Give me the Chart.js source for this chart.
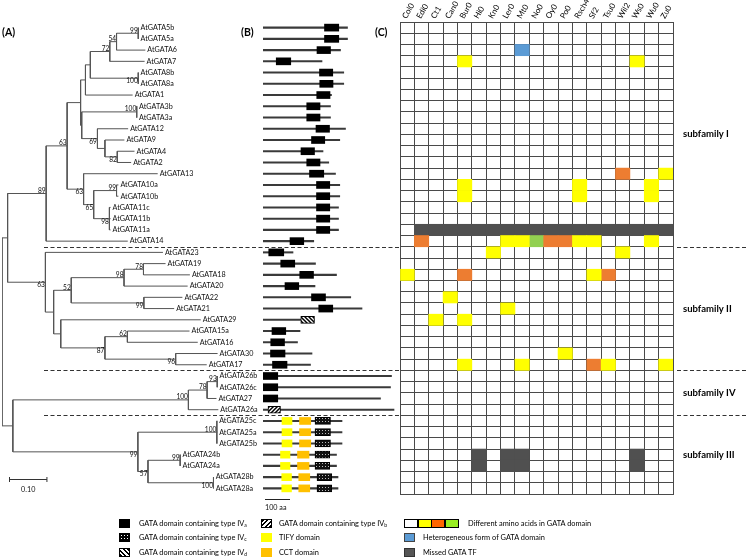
<!DOCTYPE html>
<html>
<head>
<meta charset="utf-8">
<script src="https://cdn.jsdelivr.net/npm/chart.js@4.4.1/dist/chart.umd.min.js"></script>
<style>
  body { margin: 0; background: #fff; }
  #wrap { position: relative; width: 750px; height: 558px; overflow: hidden; font-family: Lato, sans-serif; color: #000; }
  canvas { position: absolute; top: 0; }
  .tag { position: absolute; font-weight: bold; font-size: 10.5px; }
  .lg { position: absolute; font-size: 7.4px; line-height: 10px; white-space: nowrap; }
  .lg i { position: absolute; left: 0; top: 0; width: 11px; height: 9px; box-sizing: border-box; }
  .lg span { position: absolute; top: 0; }
  .lg sub { font-size: 5px; vertical-align: -1px; }
</style>
</head>
<body>
<div id="wrap">
  <canvas id="prot" width="400" height="558" style="left:0"></canvas>
  <canvas id="tree" width="264" height="558" style="left:0"></canvas>
  <canvas id="grid" width="355" height="558" style="left:395px"></canvas>

  <div class="tag" style="left:2px;top:26px">(A)</div>
  <div class="tag" style="left:241px;top:26px">(B)</div>
  <div class="tag" style="left:375px;top:26px">(C)</div>

  <div class="lg" style="left:119px;top:519px"><i style="background:#000"></i><span style="left:20px">GATA domain containing type IV<sub>a</sub></span></div>
  <div class="lg" style="left:119px;top:533px"><i style="background:#000 radial-gradient(#fff 0.5px, transparent 0.9px) 0 0/3px 3px;border:1px solid #000"></i><span style="left:20px">GATA domain containing type IV<sub>c</sub></span></div>
  <div class="lg" style="left:119px;top:548px"><i style="background:repeating-linear-gradient(45deg,#000 0 1.6px,#fff 1.6px 3.2px);border:1px solid #000"></i><span style="left:20px">GATA domain containing type IV<sub>d</sub></span></div>

  <div class="lg" style="left:261px;top:519px"><i style="background:repeating-linear-gradient(135deg,#000 0 1.6px,#fff 1.6px 3.2px);border:1px solid #000"></i><span style="left:18px">GATA domain containing type IV<sub>b</sub></span></div>
  <div class="lg" style="left:261px;top:533px"><i style="background:#ffff00"></i><span style="left:18px">TIFY domain</span></div>
  <div class="lg" style="left:261px;top:548px"><i style="background:#ffc000"></i><span style="left:18px">CCT domain</span></div>

  <div class="lg" style="left:404px;top:519px">
    <i style="left:0;width:14px;background:#fff;border:1px solid #000"></i>
    <i style="left:13.5px;width:14px;background:#ffff00;border:1px solid #000"></i>
    <i style="left:27px;width:14px;background:#ff6600;border:1px solid #000"></i>
    <i style="left:40.5px;width:14px;background:#99ee22;border:1px solid #000"></i>
    <span style="left:64px">Different amino acids in GATA domain</span></div>
  <div class="lg" style="left:404px;top:533px"><i style="background:#5b9bd5;border:1px solid #444"></i><span style="left:19px">Heterogeneous form of GATA domain</span></div>
  <div class="lg" style="left:404px;top:548px"><i style="background:#555;border:1px solid #333"></i><span style="left:19px">Missed GATA TF</span></div>
</div>

<script>
// genes, top to bottom (tree leaves = rows of panels B and C)
const genes = ['AtGATA5b','AtGATA5a','AtGATA6','AtGATA7','AtGATA8b','AtGATA8a','AtGATA1','AtGATA3b','AtGATA3a','AtGATA12',
  'AtGATA9','AtGATA4','AtGATA2','AtGATA13','AtGATA10a','AtGATA10b','AtGATA11c','AtGATA11b','AtGATA11a','AtGATA14',
  'AtGATA23','AtGATA19','AtGATA18','AtGATA20','AtGATA22','AtGATA21','AtGATA29','AtGATA15a','AtGATA16','AtGATA30','AtGATA17',
  'AtGATA26b','AtGATA26c','AtGATA27','AtGATA26a',
  'AtGATA25c','AtGATA25a','AtGATA25b','AtGATA24b','AtGATA24a','AtGATA28b','AtGATA28a'];

const subfamilies = [
  ['subfamily I', 'AtGATA5b', 'AtGATA14'],
  ['subfamily II', 'AtGATA23', 'AtGATA17'],
  ['subfamily IV', 'AtGATA26b', 'AtGATA26a'],
  ['subfamily III', 'AtGATA25c', 'AtGATA28a']
];

// (A) neighbour-joining tree, newick with bootstrap values
const treeSubI = '((((((((AtGATA5b:0.001,AtGATA5a:0.001)99:0.058,AtGATA6:0.077)54:0.018,AtGATA7:0.093)72:0.052,(AtGATA8b:0.001,AtGATA8a:0.001)100:0.128):0.013,AtGATA1:0.126):0.013,((AtGATA3b:0.001,AtGATA3a:0.001)100:0.147,(AtGATA12:0.082,(AtGATA9:0.052,(AtGATA4:0.046,AtGATA2:0.037)82:0.033):0.020)69:0.042):0.003):0.036,(AtGATA13:0.198,((AtGATA10a:0.005,AtGATA10b:0.005)99:0.061,(AtGATA11c:0.003,AtGATA11b:0.003,AtGATA11a:0.003)98:0.042)65:0.027)63:0.044)63:0.056,AtGATA14:0.218)89:0.103';
const treeSubII = '(AtGATA23:0.314,((((AtGATA19:0.059,AtGATA18:0.124)78:0.052,AtGATA20:0.170)98:0.141,(AtGATA22:0.103,AtGATA21:0.081)99:0.194)52:0.047,(AtGATA29:0.374,((AtGATA15a:0.166,AtGATA16:0.188)62:0.060,(AtGATA30:0.112,AtGATA17:0.083)96:0.189)87:0.118):0.019):0.022)63:0.101';
const treeSubIV = '(((AtGATA26b:0.001,AtGATA26c:0.001)93:0.027,AtGATA27:0.025)78:0.050,AtGATA26a:0.080)100:0.469';
const treeSubIII = '((AtGATA25c:0.001,AtGATA25a:0.001,AtGATA25b:0.001)100:0.211,((AtGATA24b:0.001,AtGATA24a:0.001)99:0.086,(AtGATA28b:0.001,AtGATA28a:0.001)100:0.175)57:0.027)99:0.334';
const newick = '((' + treeSubI + ',' + treeSubII + '):0.015,(' + treeSubIV + ',' + treeSubIII + '):0.029);';

// (B) protein length and domains, in amino acids
const proteinLength = [338,338,310,236,323,323,274,270,270,330,307,240,263,290,307,307,302,302,302,203,
  120,210,294,208,351,396,204,148,138,196,190,514,510,470,524,316,316,316,294,294,300,300];
const gataIVa = [['AtGATA5b',246,303],['AtGATA5a',246,303],['AtGATA6',216,270],['AtGATA7',53,111],['AtGATA8b',226,279],
  ['AtGATA8a',227,280],['AtGATA1',215,268],['AtGATA3b',175,228],['AtGATA3a',175,228],['AtGATA12',212,266],
  ['AtGATA9',194,247],['AtGATA4',152,206],['AtGATA2',175,228],['AtGATA13',186,243],['AtGATA10a',214,267],
  ['AtGATA10b',214,267],['AtGATA11c',214,267],['AtGATA11b',214,267],['AtGATA11a',214,267],['AtGATA14',108,163],
  ['AtGATA23',23,83],['AtGATA19',71,127],['AtGATA18',147,202],['AtGATA20',88,143],['AtGATA22',194,250],
  ['AtGATA21',223,279],['AtGATA15a',36,91],['AtGATA16',31,86],['AtGATA30',30,88],['AtGATA17',38,96],
  ['AtGATA26b',0,59],['AtGATA26c',0,59],['AtGATA27',0,59]];
const gataIVb = [['AtGATA26a',20,70]];
const gataIVc = [['AtGATA25c',208,270],['AtGATA25a',208,270],['AtGATA25b',208,270],['AtGATA24b',208,267],
  ['AtGATA24a',208,267],['AtGATA28b',216,275],['AtGATA28a',216,275]];
const gataIVd = [['AtGATA29',151,206]];
const tifyDomain = [['AtGATA25c',76,116],['AtGATA25a',76,116],['AtGATA25b',76,116],['AtGATA24b',70,108],
  ['AtGATA24a',70,108],['AtGATA28b',75,114],['AtGATA28a',75,114]];
const cctDomain = [['AtGATA25c',146,191],['AtGATA25a',146,191],['AtGATA25b',146,191],['AtGATA24b',138,184],
  ['AtGATA24a',138,184],['AtGATA28b',143,187],['AtGATA28a',143,187]];

// (C) accessions and GATA domain states
const accessions = ['Col0','Edi0','Ct1','Can0','Bur0','Hi0','Kn0','Ler0','Mt0','No0','Oy0','Po0','Rsch4','Sf2','Tsu0','Wil2','Ws0','Wu0','Zu0'];
const yellowCells = [['AtGATA7','Bur0'],['AtGATA7','Ws0'],['AtGATA13','Zu0'],['AtGATA10a','Bur0'],['AtGATA10a','Rsch4'],
  ['AtGATA10a','Wu0'],['AtGATA10b','Bur0'],['AtGATA10b','Rsch4'],['AtGATA10b','Wu0'],['AtGATA14','Ler0'],['AtGATA14','Mt0'],
  ['AtGATA14','Rsch4'],['AtGATA14','Sf2'],['AtGATA14','Wu0'],['AtGATA23','Kn0'],['AtGATA23','Wil2'],['AtGATA18','Col0'],
  ['AtGATA18','Sf2'],['AtGATA22','Can0'],['AtGATA21','Ler0'],['AtGATA29','Ct1'],['AtGATA29','Bur0'],['AtGATA30','Po0'],
  ['AtGATA17','Bur0'],['AtGATA17','Mt0'],['AtGATA17','Tsu0'],['AtGATA17','Zu0']];
const orangeCells = [['AtGATA13','Wil2'],['AtGATA14','Edi0'],['AtGATA14','Oy0'],['AtGATA14','Po0'],['AtGATA18','Bur0'],
  ['AtGATA18','Tsu0'],['AtGATA17','Sf2']];
const greenCells = [['AtGATA14','No0']];
const heteroCells = [['AtGATA6','Mt0']];
const missedCells = [['AtGATA11a','Edi0'],['AtGATA11a','Ct1'],['AtGATA11a','Can0'],['AtGATA11a','Bur0'],['AtGATA11a','Hi0'],
  ['AtGATA11a','Kn0'],['AtGATA11a','Ler0'],['AtGATA11a','Mt0'],['AtGATA11a','No0'],['AtGATA11a','Oy0'],['AtGATA11a','Po0'],
  ['AtGATA11a','Rsch4'],['AtGATA11a','Sf2'],['AtGATA11a','Tsu0'],['AtGATA11a','Wil2'],['AtGATA11a','Ws0'],['AtGATA11a','Wu0'],
  ['AtGATA11a','Zu0'],['AtGATA24b','Hi0'],['AtGATA24b','Ler0'],['AtGATA24b','Mt0'],['AtGATA24b','Ws0'],
  ['AtGATA24a','Hi0'],['AtGATA24a','Ler0'],['AtGATA24a','Mt0'],['AtGATA24a','Ws0']];

const TOP = 22, BOTTOM = 64;   // rows span y 22..494
const LINE = '#555';

// ---------- tree ----------
function parseNewick(s) {
  let i = 0;
  function node() {
    const n = { children: [] };
    if (s[i] === '(') {
      i++;
      n.children.push(node());
      while (s[i] === ',') { i++; n.children.push(node()); }
      i++;
    }
    let label = '';
    while (i < s.length && !':,);'.includes(s[i])) label += s[i++];
    n.label = label;
    n.len = 0;
    if (s[i] === ':') {
      i++;
      let num = '';
      while (i < s.length && !',);'.includes(s[i])) num += s[i++];
      n.len = parseFloat(num);
    }
    n.children.forEach(c => c.parent = n);
    return n;
  }
  return node();
}

const root = parseNewick(newick);
const allNodes = [];
function place(n, depth) {
  n.x = depth + n.len;
  allNodes.push(n);
  if (!n.children.length) {
    n.y = genes.indexOf(n.label);
  } else {
    n.children.forEach(c => place(c, n.x));
    n.y = (n.children[0].y + n.children[n.children.length - 1].y) / 2;
  }
}
place(root, 0);

const branchPts = [];
allNodes.forEach(n => {
  if (n.parent) branchPts.push({ x: n.parent.x, y: n.y }, { x: n.x, y: n.y }, { x: null, y: null });
  if (n.children.length) {
    branchPts.push({ x: n.x, y: n.children[0].y }, { x: n.x, y: n.children[n.children.length - 1].y }, { x: null, y: null });
  }
});

const treeText = {
  id: 'treeText',
  afterDatasetsDraw(chart) {
    const { ctx, scales: { x, y } } = chart;
    ctx.save();
    ctx.fillStyle = '#111';
    allNodes.forEach(n => {
      if (!n.children.length) {
        ctx.font = '7.2px Lato';
        ctx.textAlign = 'left';
        ctx.textBaseline = 'middle';
        ctx.fillText(n.label, x.getPixelForValue(n.x) + 2, y.getPixelForValue(n.y));
      } else if (n.label && n.parent) {
        const first = n.parent.children[0] === n;
        ctx.font = '6.6px Lato';
        ctx.textAlign = 'right';
        ctx.textBaseline = first ? 'bottom' : 'top';
        ctx.fillText(n.label, x.getPixelForValue(n.x) - 0.5, y.getPixelForValue(n.y) + (first ? 0.5 : -0.5));
      }
    });
    // scale bar 0.10
    const len = x.getPixelForValue(0.1) - x.getPixelForValue(0);
    const bx = 9.5, by = 479.5;
    ctx.strokeStyle = '#333';
    ctx.lineWidth = 1;
    ctx.beginPath();
    ctx.moveTo(bx, by); ctx.lineTo(bx + len, by);
    ctx.moveTo(bx, by - 2.5); ctx.lineTo(bx, by + 2.5);
    ctx.moveTo(bx + len, by - 2.5); ctx.lineTo(bx + len, by + 2.5);
    ctx.stroke();
    ctx.font = '7.2px Lato';
    ctx.textAlign = 'center';
    ctx.textBaseline = 'middle';
    ctx.fillText('0.10', bx + len / 2, 490);
    ctx.restore();
  }
};

new Chart(document.getElementById('tree'), {
  type: 'scatter',
  data: { datasets: [{ data: branchPts, showLine: true, spanGaps: false, borderColor: LINE, borderWidth: 1, pointRadius: 0 }] },
  options: {
    responsive: false, animation: false,
    layout: { padding: { left: 2, right: 0, top: TOP, bottom: BOTTOM } },
    plugins: { legend: { display: false }, tooltip: { enabled: false } },
    scales: {
      x: { type: 'linear', min: 0, max: 0.7, display: false },
      y: { type: 'linear', min: -0.5, max: genes.length - 0.5, reverse: true, display: false }
    }
  },
  plugins: [treeText]
});

// ---------- domains ----------
function pattern(size, draw) {
  const c = document.createElement('canvas');
  c.width = c.height = size;
  const g = c.getContext('2d');
  draw(g, size);
  return g.createPattern(c, 'repeat');
}
const hatchB = pattern(4, (g, s) => {
  g.fillStyle = '#fff'; g.fillRect(0, 0, s, s);
  g.strokeStyle = '#000'; g.lineWidth = 1.5;
  g.beginPath(); g.moveTo(-1, s + 1); g.lineTo(s + 1, -1); g.moveTo(-1, 1); g.lineTo(1, -1); g.moveTo(s - 1, s + 1); g.lineTo(s + 1, s - 1); g.stroke();
});
const hatchD = pattern(4, (g, s) => {
  g.fillStyle = '#fff'; g.fillRect(0, 0, s, s);
  g.strokeStyle = '#000'; g.lineWidth = 1.5;
  g.beginPath(); g.moveTo(-1, -1); g.lineTo(s + 1, s + 1); g.moveTo(s - 1, -1); g.lineTo(s + 1, 1); g.moveTo(-1, s - 1); g.lineTo(1, s + 1); g.stroke();
});
const dots = pattern(3, (g, s) => {
  g.fillStyle = '#111'; g.fillRect(0, 0, s, s);
  g.fillStyle = '#bbb'; g.fillRect(1, 1, 1, 1);
});

const toBars = list => list.map(([g, s, e]) => ({ y: g, x: [s, e] }));

function boundaryY(yScale, gene) {
  const i = genes.indexOf(gene);
  return (yScale.getPixelForValue(i) + yScale.getPixelForValue(i - 1)) / 2;
}

const leftDashes = {
  id: 'leftDashes',
  beforeDatasetsDraw(chart) {
    const { ctx, scales: { x, y } } = chart;
    ctx.save();
    ctx.strokeStyle = '#333';
    ctx.lineWidth = 1.1;
    ctx.setLineDash([4, 2.5]);
    subfamilies.slice(1).forEach(([, first]) => {
      const yy = Math.round(boundaryY(y, first)) + 0.5;
      ctx.beginPath(); ctx.moveTo(44, yy); ctx.lineTo(399, yy); ctx.stroke();
    });
    ctx.setLineDash([]);
    // 100 aa scale bar
    const x0 = x.getPixelForValue(0), x1 = x.getPixelForValue(100);
    ctx.strokeStyle = '#222';
    ctx.lineWidth = 1;
    ctx.beginPath(); ctx.moveTo(x0 + 2, 499.5); ctx.lineTo(x1 + 2, 499.5); ctx.stroke();
    ctx.fillStyle = '#111';
    ctx.font = '7.2px Lato';
    ctx.textAlign = 'left';
    ctx.textBaseline = 'middle';
    ctx.fillText('100 aa', x0 + 2, 508);
    ctx.restore();
  }
};

new Chart(document.getElementById('prot'), {
  type: 'bar',
  data: {
    labels: genes,
    datasets: [
      { data: toBars(gataIVa), backgroundColor: '#000', barThickness: 7 },
      { data: toBars(gataIVb), backgroundColor: hatchB, borderColor: '#000', borderWidth: 1, barThickness: 7 },
      { data: toBars(gataIVc), backgroundColor: dots, borderColor: '#000', borderWidth: 1, barThickness: 7 },
      { data: toBars(gataIVd), backgroundColor: hatchD, borderColor: '#000', borderWidth: 1, barThickness: 7 },
      { data: toBars(tifyDomain), backgroundColor: '#ffff00', barThickness: 7 },
      { data: toBars(cctDomain), backgroundColor: '#ffc000', barThickness: 7 },
      { data: genes.map((g, i) => ({ y: g, x: [0, proteinLength[i]] })), backgroundColor: '#3a3a3a', barThickness: 1.4 }
    ]
  },
  options: {
    indexAxis: 'y', responsive: false, animation: false,
    layout: { padding: { left: 263, right: 2, top: TOP, bottom: BOTTOM } },
    plugins: { legend: { display: false }, tooltip: { enabled: false } },
    datasets: { bar: { grouped: false, borderSkipped: false } },
    scales: {
      x: { type: 'linear', min: 0, max: 540, display: false },
      y: { type: 'category', offset: true, display: false }
    }
  },
  plugins: [leftDashes]
});

// ---------- accession grid ----------
const toCells = list => list.map(([g, a]) => {
  const c = accessions.indexOf(a);
  return { y: g, x: [c, c + 1] };
});

const gridText = {
  id: 'gridText',
  afterDraw(chart) {
    const { ctx, chartArea, scales: { x, y } } = chart;
    ctx.save();
    // accession names, rotated over their columns
    ctx.fillStyle = '#000';
    ctx.font = '8px Lato';
    ctx.textAlign = 'left';
    ctx.textBaseline = 'middle';
    accessions.forEach((a, i) => {
      ctx.save();
      ctx.translate(x.getPixelForValue(i + 0.5) - 3, chartArea.top - 4);
      ctx.rotate(-Math.PI / 3);
      ctx.fillText(a, 0, 0);
      ctx.restore();
    });
    // subfamily separators and names
    ctx.strokeStyle = '#333';
    ctx.lineWidth = 1.1;
    ctx.setLineDash([4, 2.5]);
    subfamilies.slice(1).forEach(([, first]) => {
      const yy = Math.round(boundaryY(y, first)) + 0.5;
      ctx.beginPath(); ctx.moveTo(chartArea.right + 4, yy); ctx.lineTo(chart.width - 2, yy); ctx.stroke();
    });
    ctx.setLineDash([]);
    ctx.font = 'bold 9.5px Lato';
    subfamilies.forEach(([name, first, last]) => {
      const yy = (y.getPixelForValue(genes.indexOf(first)) + y.getPixelForValue(genes.indexOf(last))) / 2;
      ctx.fillText(name, chartArea.right + 10, yy);
    });
    ctx.restore();
  }
};

new Chart(document.getElementById('grid'), {
  type: 'bar',
  data: {
    labels: genes,
    datasets: [
      { data: toCells(yellowCells), backgroundColor: '#ffff00' },
      { data: toCells(orangeCells), backgroundColor: '#ed7d31' },
      { data: toCells(greenCells), backgroundColor: '#92d050' },
      { data: toCells(heteroCells), backgroundColor: '#5b9bd5' },
      { data: toCells(missedCells), backgroundColor: '#505050' }
    ]
  },
  options: {
    indexAxis: 'y', responsive: false, animation: false,
    layout: { padding: { left: 5, right: 77, top: TOP, bottom: BOTTOM } },
    plugins: { legend: { display: false }, tooltip: { enabled: false } },
    datasets: { bar: { grouped: false, categoryPercentage: 1, barPercentage: 1, borderWidth: 0, borderSkipped: false } },
    scales: {
      x: {
        type: 'linear', min: 0, max: accessions.length, position: 'bottom', z: 1,
        ticks: { display: false, stepSize: 1, maxTicksLimit: 40 },
        grid: { color: '#4a4a4a', lineWidth: 1, drawTicks: false },
        border: { color: '#4a4a4a' },
        afterFit(s) { s.height = 0; }
      },
      y: {
        type: 'category', offset: true, position: 'left', z: 1,
        ticks: { display: false },
        grid: { color: '#4a4a4a', lineWidth: 1, drawTicks: false, offset: true },
        border: { color: '#4a4a4a' },
        afterFit(s) { s.width = 0; }
      }
    }
  },
  plugins: [gridText]
});
</script>
</body>
</html>
